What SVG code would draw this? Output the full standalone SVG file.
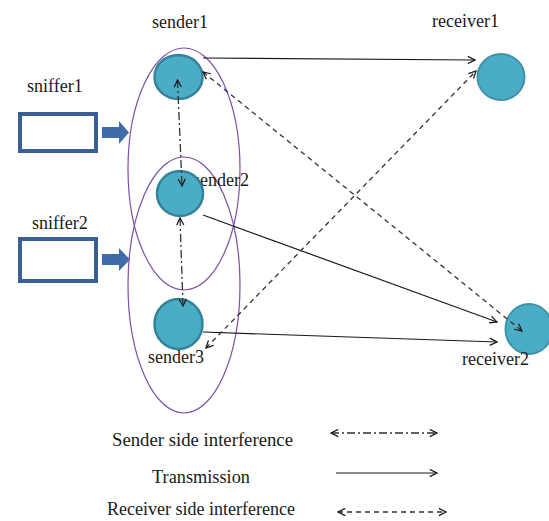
<svg xmlns="http://www.w3.org/2000/svg" width="549" height="521" viewBox="0 0 549 521">
<defs>
<style>
text{font-family:"Liberation Serif","Times New Roman",serif;font-size:18px;fill:#1a1a1a}
.snd{fill:#4BACC6;stroke:#31849B;stroke-width:2.5}
.rcv{fill:#4BACC6;stroke:#3E93AB;stroke-width:2}
.ell{fill:none;stroke:#7B4FA6;stroke-width:1.2}
.box{fill:#fff;stroke:#3A5F95;stroke-width:4}
.blk{fill:#3F6CA8}
.tx{fill:none;stroke:#1a1a1a;stroke-width:1.2;marker-end:url(#ah)}
.rx{fill:none;stroke:#333;stroke-width:1.3;stroke-dasharray:5 4;marker-start:url(#ah);marker-end:url(#ah)}
.sx{fill:none;stroke:#333;stroke-width:1.3;stroke-dasharray:8 3 2 3;marker-start:url(#ah);marker-end:url(#ah)}
</style>
<marker id="ah" viewBox="0 0 10 10" refX="9" refY="5" markerWidth="9" markerHeight="9" markerUnits="userSpaceOnUse" orient="auto-start-reverse">
<path d="M1,1 L9,5 L1,9" fill="none" stroke="#1a1a1a" stroke-width="1.4"/>
</marker>
</defs>
<rect width="549" height="521" fill="#fff"/>

<g id="groups">
<ellipse class="ell" cx="184" cy="169" rx="56" ry="121"/>
<ellipse class="ell" cx="184" cy="285" rx="56" ry="128"/>
</g>

<g id="sniffer1">
<text x="27" y="92">sniffer1</text>
<rect class="box" x="20" y="114" width="76" height="37"/>
<polygon class="blk" points="102,127 119,127 119,121 129,132.5 119,144 119,138 102,138"/>
</g>
<g id="sniffer2">
<text x="32" y="229">sniffer2</text>
<rect class="box" x="20" y="239" width="76" height="42"/>
<polygon class="blk" points="102,254 119,254 119,248 130,259.5 119,271 119,265 102,265"/>
</g>

<g id="sender1">
<text x="152" y="28">sender1</text>
<ellipse class="snd" cx="178.5" cy="77" rx="24" ry="22"/>
</g>
<g id="sender2">
<text x="193" y="186">sender2</text>
<ellipse class="snd" cx="180" cy="193.5" rx="23" ry="22.5"/>
</g>
<g id="sender3">
<ellipse class="snd" cx="178.5" cy="324" rx="24" ry="25"/>
<text x="148" y="363">sender3</text>
</g>
<g id="receiver1">
<text x="432" y="27">receiver1</text>
<ellipse class="rcv" cx="501" cy="77" rx="23.5" ry="23"/>
</g>
<g id="receiver2">
<ellipse class="rcv" cx="529" cy="329" rx="23.5" ry="25"/>
<text x="462" y="365">receiver2</text>
</g>

<g id="connectors">
<line class="tx" x1="203" y1="58" x2="475" y2="60"/>
<line class="tx" x1="203" y1="215" x2="497" y2="322"/>
<line class="tx" x1="203" y1="332" x2="497" y2="342"/>
<line class="rx" x1="203" y1="72" x2="522" y2="331"/>
<line class="rx" x1="206" y1="348" x2="476" y2="71"/>
<line class="sx" x1="177.5" y1="80" x2="182" y2="186"/>
<line class="sx" x1="180" y1="218" x2="183" y2="306"/>
</g>

<g id="legend">
<text x="112" y="446" textLength="181" lengthAdjust="spacingAndGlyphs">Sender side interference</text>
<text x="152" y="483" textLength="98" lengthAdjust="spacingAndGlyphs">Transmission</text>
<text x="107" y="515" textLength="188" lengthAdjust="spacingAndGlyphs">Receiver side interference</text>
<line class="sx" x1="331" y1="433" x2="437" y2="433"/>
<line class="tx" x1="336" y1="473" x2="437" y2="473"/>
<line class="rx" x1="338" y1="512" x2="446" y2="512"/>
</g>
</svg>
